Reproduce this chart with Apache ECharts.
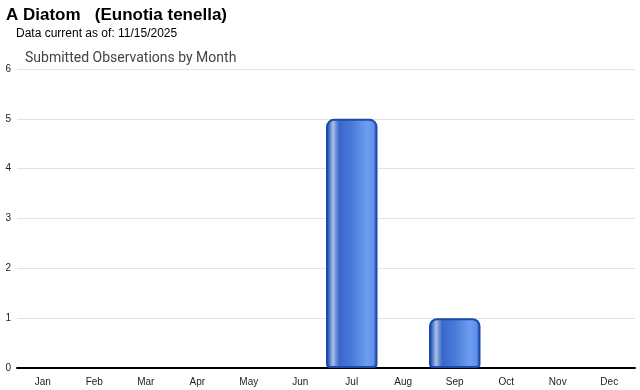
<!DOCTYPE html>
<html><head><meta charset="utf-8">
<script src="https://cdn.jsdelivr.net/npm/echarts@6/dist/echarts.min.js"></script>
<style>html,body{margin:0;padding:0;background:#fff}#c{width:640px;height:390px}</style>
</head><body><div id="c"></div>
<script>
const months = ["Jan","Feb","Mar","Apr","May","Jun","Jul","Aug","Sep","Oct","Nov","Dec"];
const observations = [0,0,0,0,0,0,5,0,1,0,0,0];
const yTicks = [0,1,2,3,4,5,6];
const titleText = "A Diatom   (Eunotia tenella)";
const subText = "Data current as of: 11/15/2025";
const chartTitle = "Submitted Observations by Month";

const chart = echarts.init(document.getElementById('c'), null, {renderer:'canvas'});
const grad = new echarts.graphic.LinearGradient(0,0,1,0,[
  {offset:0, color:'#1f4fb0'},
  {offset:0.05, color:'#3262c2'},
  {offset:0.1, color:'#7c9cd8'},
  {offset:0.14, color:'#aac0e6'},
  {offset:0.19, color:'#7494d8'},
  {offset:0.26, color:'#3868cc'},
  {offset:0.5, color:'#4a7ad8'},
  {offset:0.8, color:'#6e9ef0'},
  {offset:0.92, color:'#6090ea'},
  {offset:1, color:'#2050b5'}
]);
const barData = observations.map(v => v > 0 ? v : {value:v, itemStyle:{borderWidth:0, opacity:0}});
chart.setOption({
  animation:false,
  title:[
    {text:titleText, left:6, top:7, padding:0, textStyle:{fontFamily:'Liberation Sans, Arial', fontSize:17, fontWeight:'bold', color:'#000'}},
    {text:subText, left:16, top:28, padding:0, textStyle:{fontFamily:'Liberation Sans, Arial', fontSize:12, fontWeight:'normal', color:'#000'}},
    {text:chartTitle, left:25, top:51, padding:0, textStyle:{fontFamily:'Roboto, Open Sans, sans-serif', fontSize:14, fontWeight:'normal', color:'#444'}}
  ],
  grid:{left:17, right:5, top:69, bottom:22, containLabel:false},
  xAxis:{
    type:'category', data:months,
    axisLine:{lineStyle:{color:'#000', width:2}},
    axisTick:{alignWithLabel:true, length:5, lineStyle:{color:'#ccc'}},
    axisLabel:{color:'#222', fontSize:10, fontFamily:'Liberation Sans, Arial', margin:9}
  },
  yAxis:{
    type:'value', min:yTicks[0], max:yTicks[yTicks.length-1], interval:1,
    axisLine:{show:false}, axisTick:{show:false},
    axisLabel:{color:'#222', fontSize:10, fontFamily:'Liberation Sans, Arial', margin:6, align:'right'},
    splitLine:{lineStyle:{color:'#e2e2e2', width:1}}
  },
  series:[{
    type:'bar', data:barData, barCategoryGap:'0%',
    itemStyle:{color:grad, borderColor:'#1b4aa8', borderWidth:2, borderRadius:[7,7,3,3]}
  }]
});
</script></body></html>
